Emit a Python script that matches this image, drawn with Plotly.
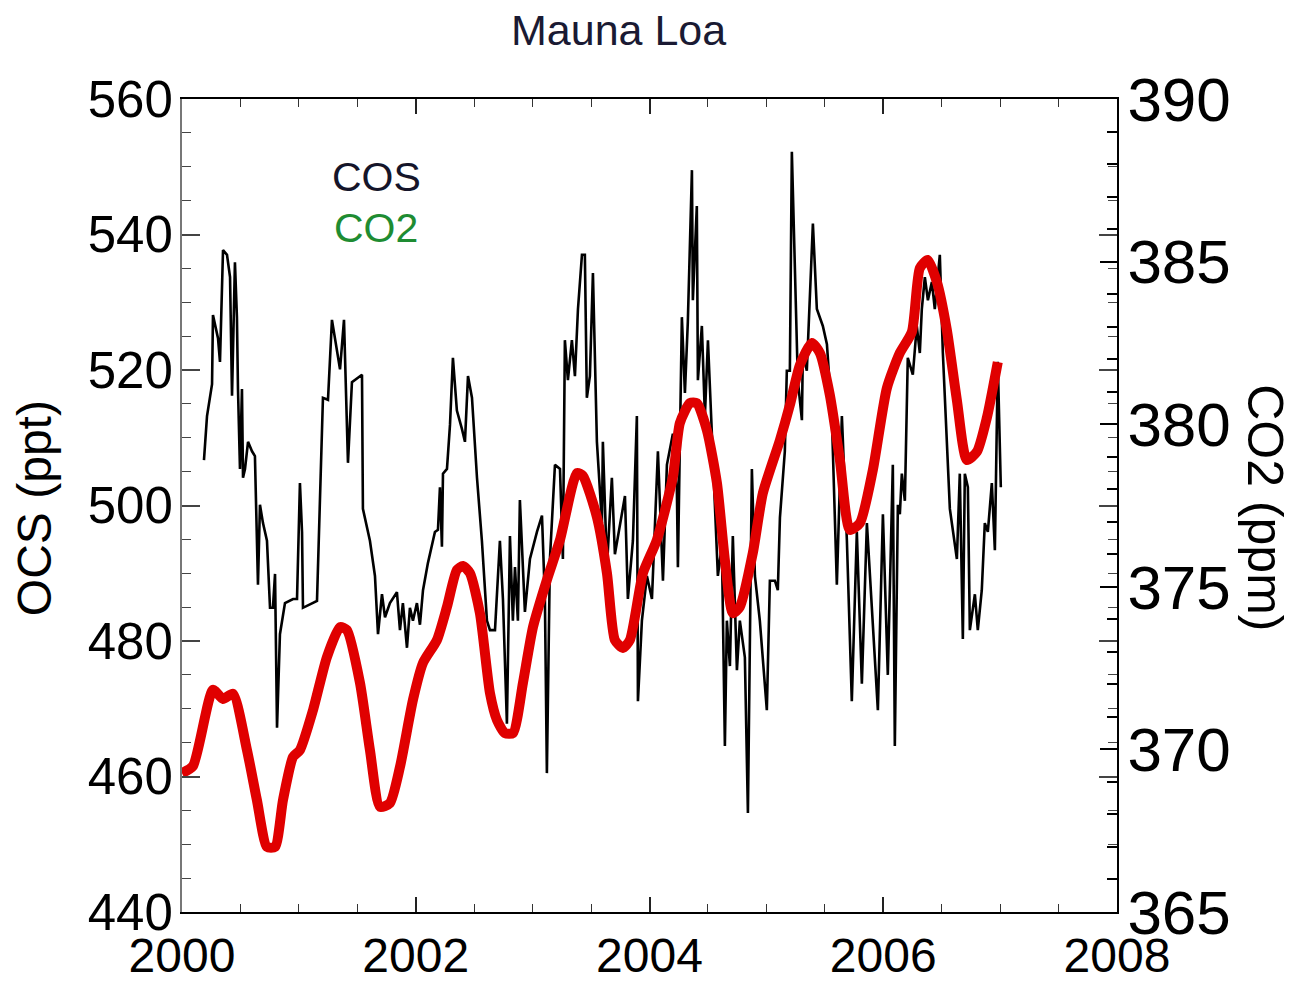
import plotly.graph_objects as go

# ---- COS (OCS) at Mauna Loa, ppt ----
cos_year = [
    2000.188, 2000.214, 2000.257, 2000.265, 2000.308, 2000.325, 2000.351, 2000.385, 2000.411, 2000.428,
    2000.453, 2000.470, 2000.479, 2000.496, 2000.513, 2000.522, 2000.539, 2000.565, 2000.599, 2000.624,
    2000.650, 2000.667, 2000.693, 2000.727, 2000.753, 2000.778, 2000.796, 2000.813, 2000.838, 2000.881,
    2000.950, 2000.984, 2001.009, 2001.027, 2001.035, 2001.155, 2001.206, 2001.249, 2001.283, 2001.352,
    2001.386, 2001.420, 2001.454, 2001.540, 2001.548, 2001.608, 2001.651, 2001.677, 2001.711, 2001.737,
    2001.779, 2001.839, 2001.865, 2001.890, 2001.925, 2001.950, 2001.976, 2002.010, 2002.036, 2002.062,
    2002.104, 2002.164, 2002.190, 2002.207, 2002.224, 2002.233, 2002.267, 2002.293, 2002.318, 2002.352,
    2002.395, 2002.421, 2002.447, 2002.481, 2002.524, 2002.566, 2002.609, 2002.635, 2002.678, 2002.720,
    2002.746, 2002.780, 2002.806, 2002.831, 2002.849, 2002.874, 2002.891, 2002.934, 2002.977, 2003.037,
    2003.080, 2003.105, 2003.122, 2003.148, 2003.191, 2003.234, 2003.259, 2003.276, 2003.302, 2003.336,
    2003.362, 2003.388, 2003.422, 2003.447, 2003.464, 2003.490, 2003.516, 2003.550, 2003.593, 2003.601,
    2003.636, 2003.678, 2003.704, 2003.747, 2003.790, 2003.815, 2003.858, 2003.892, 2003.901, 2003.935,
    2003.978, 2004.021, 2004.046, 2004.072, 2004.115, 2004.149, 2004.200, 2004.234, 2004.243, 2004.277,
    2004.303, 2004.328, 2004.363, 2004.371, 2004.405, 2004.414, 2004.448, 2004.474, 2004.500, 2004.542,
    2004.585, 2004.619, 2004.645, 2004.662, 2004.688, 2004.713, 2004.748, 2004.773, 2004.816, 2004.842,
    2004.876, 2004.902, 2004.944, 2005.004, 2005.030, 2005.073, 2005.098, 2005.116, 2005.158, 2005.175,
    2005.201, 2005.218, 2005.244, 2005.269, 2005.304, 2005.312, 2005.346, 2005.398, 2005.432, 2005.483,
    2005.518, 2005.560, 2005.603, 2005.646, 2005.689, 2005.731, 2005.774, 2005.817, 2005.860, 2005.911,
    2005.954, 2005.997, 2006.039, 2006.082, 2006.099, 2006.125, 2006.142, 2006.159, 2006.185, 2006.210,
    2006.253, 2006.287, 2006.313, 2006.330, 2006.356, 2006.382, 2006.416, 2006.441, 2006.484, 2006.510,
    2006.544, 2006.570, 2006.630, 2006.655, 2006.681, 2006.698, 2006.724, 2006.741, 2006.784, 2006.809,
    2006.843, 2006.869, 2006.895, 2006.929, 2006.955, 2006.980, 2007.006,
]
cos_ppt = [
    506.7, 513.2, 517.9, 528.1, 524.7, 521.2, 537.7, 537.0, 533.7, 516.2,
    535.9, 527.8, 517.2, 505.4, 517.2, 504.1, 505.4, 509.4, 508.0, 507.3,
    488.3, 500.1, 497.4, 494.8, 484.9, 484.9, 489.9, 467.2, 481.0, 485.6,
    486.2, 486.2, 503.3, 496.1, 484.9, 485.9, 515.9, 515.6, 527.4, 520.1,
    527.4, 506.3, 518.2, 519.3, 499.5, 494.8, 489.6, 481.0, 486.9, 483.5,
    485.6, 487.2, 481.6, 485.6, 479.0, 484.9, 483.0, 485.6, 482.4, 487.5,
    491.5, 496.1, 496.4, 502.7, 493.9, 504.7, 505.4, 511.9, 521.8, 514.0,
    511.3, 509.4, 519.1, 515.9, 504.1, 494.8, 483.0, 481.6, 481.6, 494.8,
    486.2, 467.8, 495.5, 483.0, 490.9, 483.0, 500.8, 484.3, 492.1, 496.1,
    498.5, 486.2, 460.5, 492.1, 506.0, 505.4, 492.1, 524.4, 518.5, 524.4,
    519.1, 529.0, 537.0, 537.0, 515.9, 519.1, 534.3, 509.4, 497.4, 509.4,
    490.9, 504.1, 492.8, 497.4, 501.4, 486.2, 494.8, 513.2, 471.1, 483.0,
    489.6, 486.2, 497.4, 508.0, 488.9, 506.0, 510.6, 502.7, 490.9, 527.8,
    516.6, 527.1, 549.5, 530.3, 544.2, 518.5, 526.5, 513.2, 524.4, 508.0,
    489.6, 494.2, 464.5, 483.0, 476.3, 495.5, 475.7, 483.0, 477.6, 454.6,
    505.4, 489.6, 483.0, 469.8, 488.9, 488.9, 487.5, 498.2, 508.0, 519.9,
    519.9, 552.2, 535.6, 518.5, 512.6, 522.5, 519.9, 541.6, 529.0, 526.5,
    523.8, 513.2, 488.3, 513.2, 494.8, 471.1, 496.1, 473.7, 497.4, 482.4,
    469.8, 498.7, 475.0, 506.0, 464.5, 500.1, 498.7, 504.7, 500.7, 521.8,
    519.3, 526.5, 522.5, 529.0, 533.7, 530.3, 533.0, 529.0, 537.0, 522.5,
    509.4, 499.5, 492.1, 504.7, 480.3, 504.7, 502.7, 481.6, 486.9, 481.6,
    487.5, 497.4, 496.1, 503.3, 493.4, 521.2, 502.7,
]

# ---- CO2 at Mauna Loa, ppm ----
co2_year = [
    2000.000, 2000.094, 2000.265, 2000.351, 2000.436, 2000.556, 2000.641, 2000.727, 2000.796, 2000.864,
    2000.950, 2001.009, 2001.121, 2001.240, 2001.352, 2001.411, 2001.523, 2001.608, 2001.694, 2001.779,
    2001.865, 2001.976, 2002.062, 2002.181, 2002.267, 2002.352, 2002.404, 2002.464, 2002.549, 2002.635,
    2002.695, 2002.763, 2002.832, 2002.917, 2003.003, 2003.122, 2003.234, 2003.379, 2003.430, 2003.550,
    2003.636, 2003.704, 2003.772, 2003.832, 2003.944, 2004.063, 2004.200, 2004.260, 2004.346, 2004.405,
    2004.491, 2004.577, 2004.645, 2004.713, 2004.773, 2004.884, 2004.970, 2005.116, 2005.201, 2005.287,
    2005.389, 2005.458, 2005.543, 2005.629, 2005.714, 2005.800, 2005.911, 2006.031, 2006.142, 2006.245,
    2006.313, 2006.381, 2006.459, 2006.544, 2006.630, 2006.715, 2006.801, 2006.886, 2006.980,
]
co2_ppm = [
    369.27, 369.49, 371.83, 371.55, 371.71, 369.98, 368.44, 367.00, 367.00, 368.44,
    369.77, 369.98, 371.21, 372.84, 373.76, 373.67, 372.04, 369.98, 368.23, 368.35,
    369.46, 371.52, 372.66, 373.36, 374.38, 375.52, 375.64, 375.42, 374.19, 371.73,
    370.90, 370.50, 370.50, 372.04, 373.76, 375.21, 376.44, 378.50, 378.41, 377.15,
    375.42, 373.36, 373.12, 373.36, 375.42, 376.44, 378.38, 380.04, 380.65, 380.65,
    379.82, 378.19, 375.82, 374.19, 374.38, 376.04, 377.88, 379.51, 380.59, 381.82,
    382.50, 382.19, 380.90, 378.90, 376.75, 376.96, 378.59, 381.11, 382.19, 382.84,
    384.80, 385.05, 384.37, 382.90, 380.74, 378.90, 379.15, 380.19, 381.91,
]

x_ticks = [2000, 2002, 2004, 2006, 2008]
ocs_ticks = [440, 460, 480, 500, 520, 540, 560]
co2_ticks = [365, 370, 375, 380, 385, 390]

FONT = "Liberation Sans, Arial, Helvetica, sans-serif"

fig = go.Figure()
fig.add_trace(go.Scatter(
    x=cos_year, y=cos_ppt, mode="lines", name="COS",
    line=dict(color="black", width=2.6), yaxis="y", showlegend=False,
))
fig.add_trace(go.Scatter(
    x=co2_year, y=co2_ppm, mode="lines", name="CO2",
    line=dict(color="#e00000", width=10, shape="spline", smoothing=0.6),
    yaxis="y2", showlegend=False,
))

fig.update_layout(
    width=1304, height=982,
    margin=dict(l=174, r=195, t=91, b=78, autoexpand=False),
    paper_bgcolor="white", plot_bgcolor="white",
    font=dict(family=FONT, color="black"),
    xaxis=dict(
        range=[2000, 2008], tickvals=x_ticks, ticktext=[str(v) for v in x_ticks],
        ticks="inside", ticklen=15, tickwidth=1.5, tickcolor="#222",
        minor=dict(dtick=0.5, ticks="inside", ticklen=8, tickwidth=1.2, tickcolor="#333"),
        showline=True, linecolor="black", linewidth=2, mirror="ticks",
        showgrid=False, zeroline=False, automargin=False,
        tickfont=dict(size=48, family=FONT, color="black"),
        ticklabelstandoff=0,
    ),
    yaxis=dict(
        range=[440, 560], tickvals=ocs_ticks,
        ticks="inside", ticklen=18, tickwidth=1.5, tickcolor="#444",
        minor=dict(dtick=5, ticks="inside", ticklen=9, tickwidth=1.3, tickcolor="#444"),
        showline=True, linecolor="#777", linewidth=2, mirror="ticks",
        showgrid=False, zeroline=False, automargin=False,
        tickfont=dict(size=51, family=FONT, color="black"),
        ticklabelstandoff=-3,
    ),
    yaxis2=dict(
        range=[365, 390], tickvals=co2_ticks, overlaying="y", side="right",
        ticks="inside", ticklen=17, tickwidth=1.8, tickcolor="black",
        minor=dict(dtick=1, ticks="inside", ticklen=10, tickwidth=1.5, tickcolor="black"),
        showline=True, linecolor="black", linewidth=2,
        showgrid=False, zeroline=False, automargin=False,
        tickfont=dict(size=62, family=FONT, color="black"),
        ticklabelstandoff=-4,
    ),
    annotations=[
        dict(text="Mauna Loa", xref="paper", yref="paper", x=0.467, y=1.085,
             showarrow=False, font=dict(size=43, family=FONT, color="#1a1a33"),
             xanchor="center", yanchor="middle"),
        dict(text="OCS (ppt)", xref="paper", yref="paper", x=-0.157, y=0.497,
             showarrow=False, textangle=-90, font=dict(size=48, family=FONT, color="black"),
             xanchor="center", yanchor="middle"),
        dict(text="CO2 (ppm)", xref="paper", yref="paper", x=1.158, y=0.497,
             showarrow=False, textangle=90, font=dict(size=50, family=FONT, color="black"),
             xanchor="center", yanchor="middle"),
        dict(text="COS", xref="paper", yref="paper", x=0.2075, y=0.904,
             showarrow=False, font=dict(size=41, family=FONT, color="#15152a"),
             xanchor="center", yanchor="middle"),
        dict(text="CO2", xref="paper", yref="paper", x=0.2075, y=0.841,
             showarrow=False, font=dict(size=41, family=FONT, color="#1e8c32"),
             xanchor="center", yanchor="middle"),
    ],
)

fig.write_html("out.html")
